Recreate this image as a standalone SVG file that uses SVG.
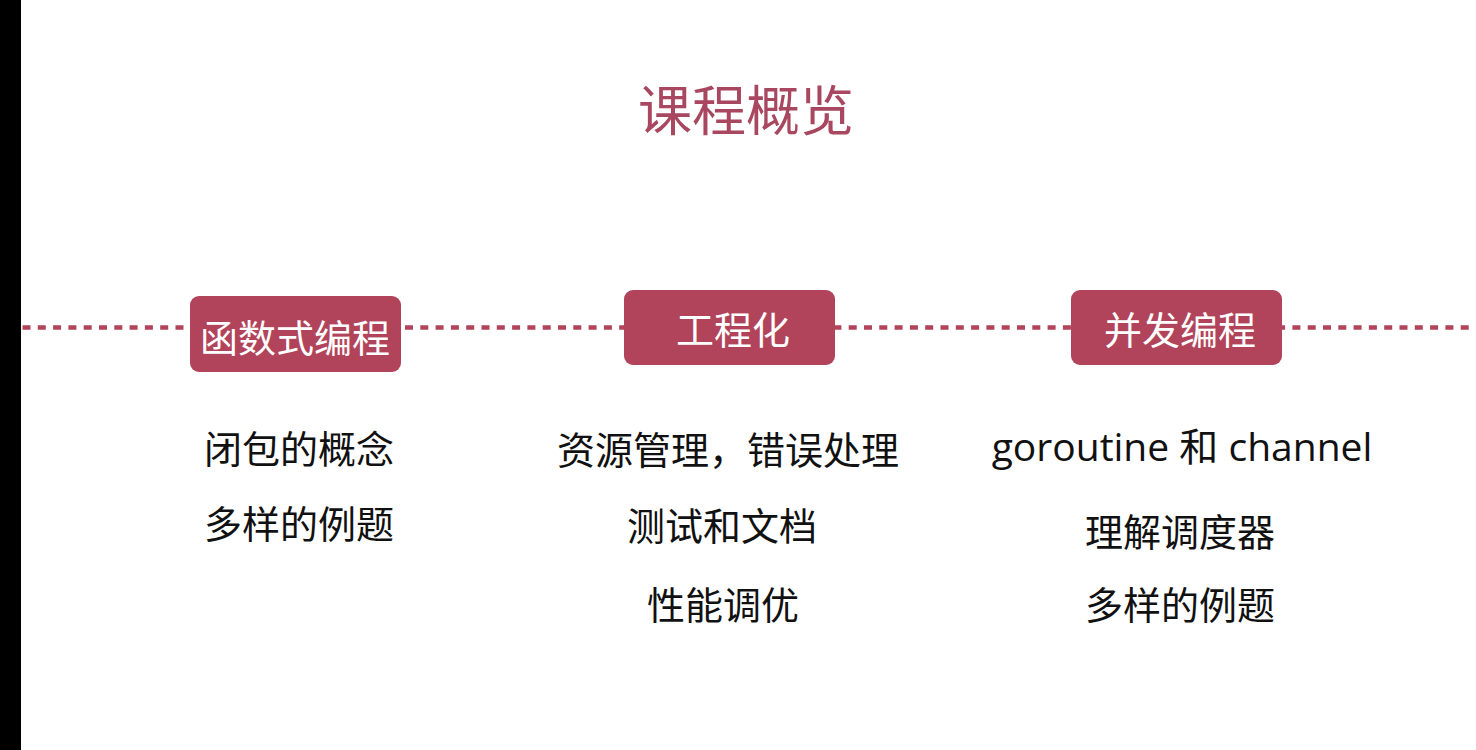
<svg xmlns="http://www.w3.org/2000/svg" width="1476" height="750" viewBox="0 0 1476 750">
<style>
.box{fill:#b1445a}
.bt{fill:#ffffff;font-family:"Noto Sans CJK SC","Noto Sans",sans-serif;font-size:38px;text-anchor:middle;dominant-baseline:central}
.t{fill:#111111;font-family:"Open Sans","Noto Sans CJK SC",sans-serif;font-size:38px;text-anchor:middle;dominant-baseline:central}
.title{fill:#a8475f;font-family:"Noto Sans CJK SC",sans-serif;font-size:54px;text-anchor:middle;dominant-baseline:central}
</style>
<rect width="1476" height="750" fill="#ffffff"/>
<rect x="0" y="0" width="21" height="750" fill="#000000"/>
<text class="title" x="746" y="107">课程概览</text>
<g id="connectors">
<line x1="22.5" y1="327.5" x2="1476" y2="327.5" stroke="#b1445a" stroke-width="4.5" stroke-dasharray="8 7.3"/>
</g>
<g id="node-func">
<rect class="box" x="190" y="296" width="211" height="76" rx="9"/>
<text class="bt" x="295" y="335">函数式编程</text>
</g>
<g id="node-eng">
<rect class="box" x="624" y="290" width="211" height="75" rx="9"/>
<text class="bt" x="733" y="327">工程化</text>
</g>
<g id="node-conc">
<rect class="box" x="1071" y="290" width="211" height="75" rx="9"/>
<text class="bt" x="1180" y="327">并发编程</text>
</g>
<g id="items">
<text class="t" x="299" y="448">闭包的概念</text>
<text class="t" x="299" y="523">多样的例题</text>
<text class="t" x="728" y="449">资源管理，错误处理</text>
<text class="t" x="722" y="525">测试和文档</text>
<text class="t" x="723" y="604">性能调优</text>
<text class="t" x="1182" y="445" style="font-size:39px">goroutine 和 channel</text>
<text class="t" x="1180" y="531">理解调度器</text>
<text class="t" x="1180" y="604">多样的例题</text>
</g>
</svg>
